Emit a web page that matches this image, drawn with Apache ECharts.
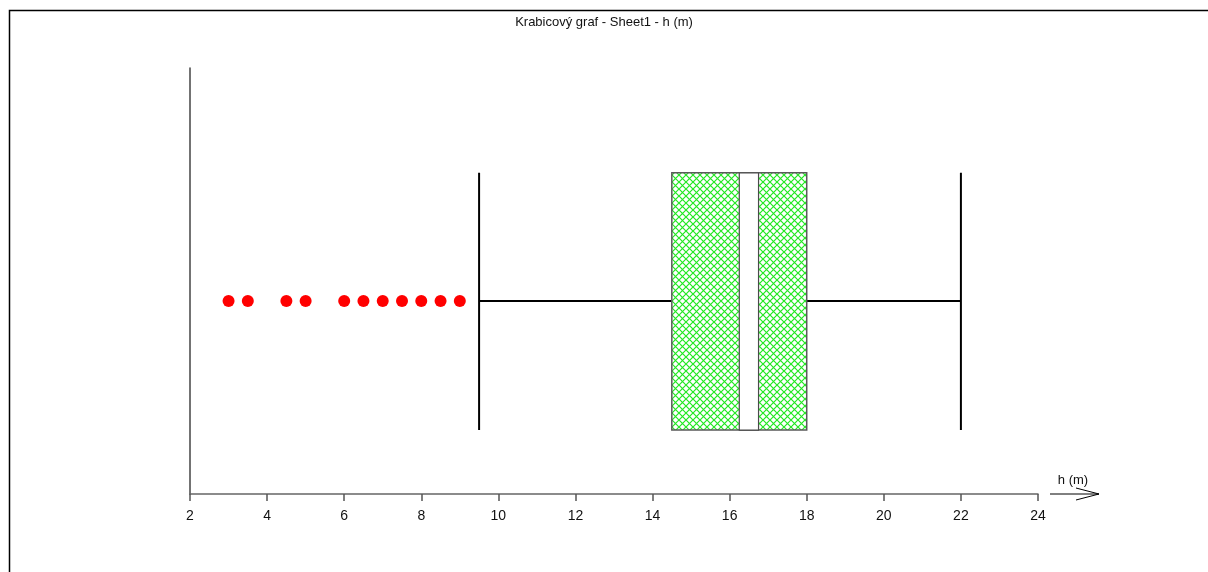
<!DOCTYPE html>
<html>
<head>
<meta charset="utf-8">
<script src="https://cdn.jsdelivr.net/npm/echarts@6/dist/echarts.min.js"></script>
<style>
  html, body { margin: 0; padding: 0; background: #fff; }
  #chart { width: 1208px; height: 572px; }
</style>
</head>
<body>
<div id="chart"></div>
<script>
// Box plot of h (m): whiskers, quartiles, median band and outliers
const titleText = 'Krabicový graf - Sheet1 - h (m)';
const axisName = 'h (m)';
const xTicks = [2, 4, 6, 8, 10, 12, 14, 16, 18, 20, 22, 24];
// [lower whisker, Q1, median, Q3, upper whisker]
const boxStats = [9.5, 14.5, 16.5, 18, 22];
// white band drawn across the box at the median
const medianBand = [16.25, 16.75];
const outliers = [3, 3.5, 4.5, 5, 6, 6.5, 7, 7.5, 8, 8.5, 9];

// vertical layout of the box on the hidden 0..1 value axis
const ROW_Y = 0.453, BOX_TOP = 0.754, BOX_BOTTOM = 0.15;

// cross-hatch tile for the box fill
function hatchTile() {
  const s = 7;
  const c = document.createElement('canvas');
  c.width = s; c.height = s;
  const g = c.getContext('2d');
  g.fillStyle = '#ffffff';
  g.fillRect(0, 0, s, s);
  g.strokeStyle = '#22e822';
  g.lineWidth = 1.2;
  g.beginPath();
  g.moveTo(0, 0); g.lineTo(s, s);
  g.moveTo(s, 0); g.lineTo(0, s);
  g.stroke();
  return c;
}
const hatch = hatchTile();

const chart = echarts.init(document.getElementById('chart'), null, { renderer: 'canvas' });

function renderBox(params, api) {
  const lo = api.value(0), q1 = api.value(1), q3 = api.value(3), hi = api.value(4);
  const mA = api.value(5), mB = api.value(6);
  const pLo = api.coord([lo, ROW_Y]);
  const pHi = api.coord([hi, ROW_Y]);
  const pQ1 = api.coord([q1, BOX_TOP]);
  const pQ3 = api.coord([q3, BOX_BOTTOM]);
  const pMA = api.coord([mA, BOX_TOP]);
  const pMB = api.coord([mB, BOX_BOTTOM]);
  const top = pQ1[1], bottom = pQ3[1];
  const black = { stroke: '#000', lineWidth: 2 };
  return {
    type: 'group',
    children: [
      { type: 'line', shape: { x1: pLo[0], y1: pLo[1], x2: pQ1[0], y2: pLo[1] }, style: black },
      { type: 'line', shape: { x1: pQ3[0], y1: pHi[1], x2: pHi[0], y2: pHi[1] }, style: black },
      { type: 'line', shape: { x1: pLo[0], y1: top, x2: pLo[0], y2: bottom }, style: black },
      { type: 'line', shape: { x1: pHi[0], y1: top, x2: pHi[0], y2: bottom }, style: black },
      { type: 'rect', shape: { x: pQ1[0], y: top, width: pQ3[0] - pQ1[0], height: bottom - top },
        style: { fill: { image: hatch, repeat: 'repeat' }, stroke: '#5a5a5a', lineWidth: 1.5 } },
      { type: 'rect', shape: { x: pMA[0], y: top, width: pMB[0] - pMA[0], height: bottom - top },
        style: { fill: '#fff', stroke: '#4a4a4a', lineWidth: 1.2 } }
    ]
  };
}

chart.setOption({
  animation: false,
  backgroundColor: '#fff',
  title: {
    text: titleText,
    left: 'center',
    top: 11,
    textStyle: { fontFamily: 'Liberation Sans, Arial, sans-serif', fontSize: 13, fontWeight: 'normal', color: '#111' }
  },
  grid: { left: 190, right: 170, top: 68, bottom: 78, containLabel: false },
  xAxis: {
    type: 'value',
    min: xTicks[0],
    max: xTicks[xTicks.length - 1],
    interval: 2,
    axisLine: { show: true, lineStyle: { color: '#666', width: 1.5 } },
    axisTick: { show: true, inside: false, length: 7, lineStyle: { color: '#555', width: 1.5 } },
    axisLabel: { margin: 15, fontFamily: 'Liberation Sans, Arial, sans-serif', fontSize: 14, color: '#111' },
    splitLine: { show: false }
  },
  yAxis: {
    type: 'value',
    min: 0,
    max: 1,
    axisLine: { show: true, onZero: false, lineStyle: { color: '#444', width: 1.5 } },
    axisTick: { show: false },
    axisLabel: { show: false },
    splitLine: { show: false }
  },
  series: [
    {
      type: 'custom',
      renderItem: renderBox,
      data: [[...boxStats, medianBand[0], medianBand[1]]],
      encode: { x: [0, 1, 2, 3, 4] },
      clip: false,
      z: 2
    },
    {
      type: 'scatter',
      symbol: 'circle',
      symbolSize: 12,
      itemStyle: { color: '#ff0000', opacity: 1 },
      data: outliers.map(v => [v, ROW_Y]),
      z: 3
    }
  ],
  graphic: [
    // outer frame
    { type: 'polyline', shape: { points: [[9.5, 572], [9.5, 10.5], [1208, 10.5]] },
      style: { stroke: '#000', lineWidth: 1.5, fill: null } },
    // axis arrow
    { type: 'polyline', shape: { points: [[1050, 494], [1099, 494]] },
      style: { stroke: '#000', lineWidth: 1, fill: null } },
    { type: 'polyline', shape: { points: [[1076, 488], [1099, 494], [1076, 500]] },
      style: { stroke: '#000', lineWidth: 1, fill: null } },
    { type: 'text', x: 1073, y: 487,
      style: { text: axisName, fontFamily: 'Liberation Sans, Arial, sans-serif', fontSize: 13, fill: '#111', align: 'center', verticalAlign: 'bottom' } }
  ]
});
</script>
</body>
</html>
